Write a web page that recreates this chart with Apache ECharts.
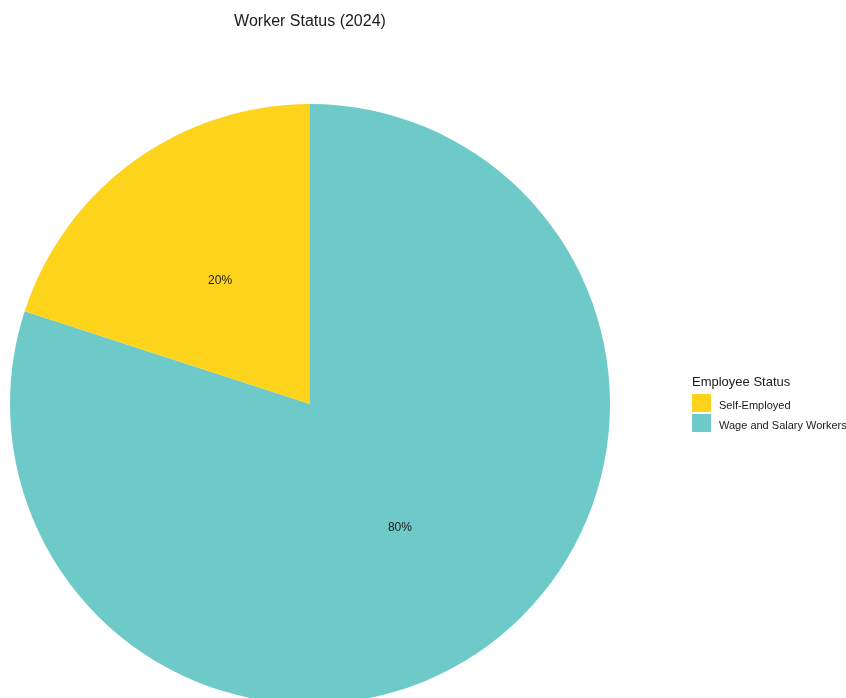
<!DOCTYPE html>
<html>
<head>
<meta charset="utf-8">
<script src="https://cdn.jsdelivr.net/npm/echarts@6/dist/echarts.min.js"></script>
<style>html,body{margin:0;padding:0;background:#fff}#c{width:846px;height:698px}</style>
</head>
<body>
<div id="c"></div>
<script>
const categories = ['Self-Employed', 'Wage and Salary Workers'];
const values = [20, 80];
const colors = ['#FDD31C', '#6DCAC8'];
const titleText = 'Worker Status (2024)';
const legendTitle = 'Employee Status';

const font = '"Liberation Sans", Arial, sans-serif';
// draw order: Wage first so it starts at 12 o'clock clockwise, Self-Employed fills the rest
const order = [1, 0];
const chart = echarts.init(document.getElementById('c'), null, {renderer: 'canvas'});
chart.setOption({
  animation: false,
  backgroundColor: '#ffffff',
  title: [
    {text: titleText, left: 310, top: 14, padding: 0, textAlign: 'center',
     textStyle: {fontFamily: font, fontSize: 16, fontWeight: 'normal', color: '#1a1a1a'}},
    {text: legendTitle, left: 692, top: 376, padding: 0,
     textStyle: {fontFamily: font, fontSize: 13, fontWeight: 'normal', color: '#1a1a1a'}}
  ],
  legend: {
    orient: 'vertical', left: 692, top: 394, padding: 0,
    itemWidth: 19, itemHeight: 18, itemGap: 2, icon: 'rect',
    data: categories,
    formatter: n => '{a|' + n + '}',
    textStyle: {
      fontFamily: font, fontSize: 11, color: '#1a1a1a',
      rich: {a: {fontFamily: font, fontSize: 11, color: '#1a1a1a', padding: [5, 0, 0, 3]}}
    }
  },
  series: [{
    type: 'pie',
    center: [310, 404],
    radius: [0, 300],
    startAngle: 90,
    clockwise: true,
    avoidLabelOverlap: false,
    label: {
      show: true, position: 'inside',
      formatter: p => Math.round(p.value) + '%',
      fontFamily: font, fontSize: 12, color: '#1a1a1a'
    },
    labelLine: {show: false},
    emphasis: {disabled: true},
    itemStyle: {borderWidth: 0},
    data: order.map(i => ({name: categories[i], value: values[i], itemStyle: {color: colors[i]}}))
  }]
});
</script>
</body>
</html>
